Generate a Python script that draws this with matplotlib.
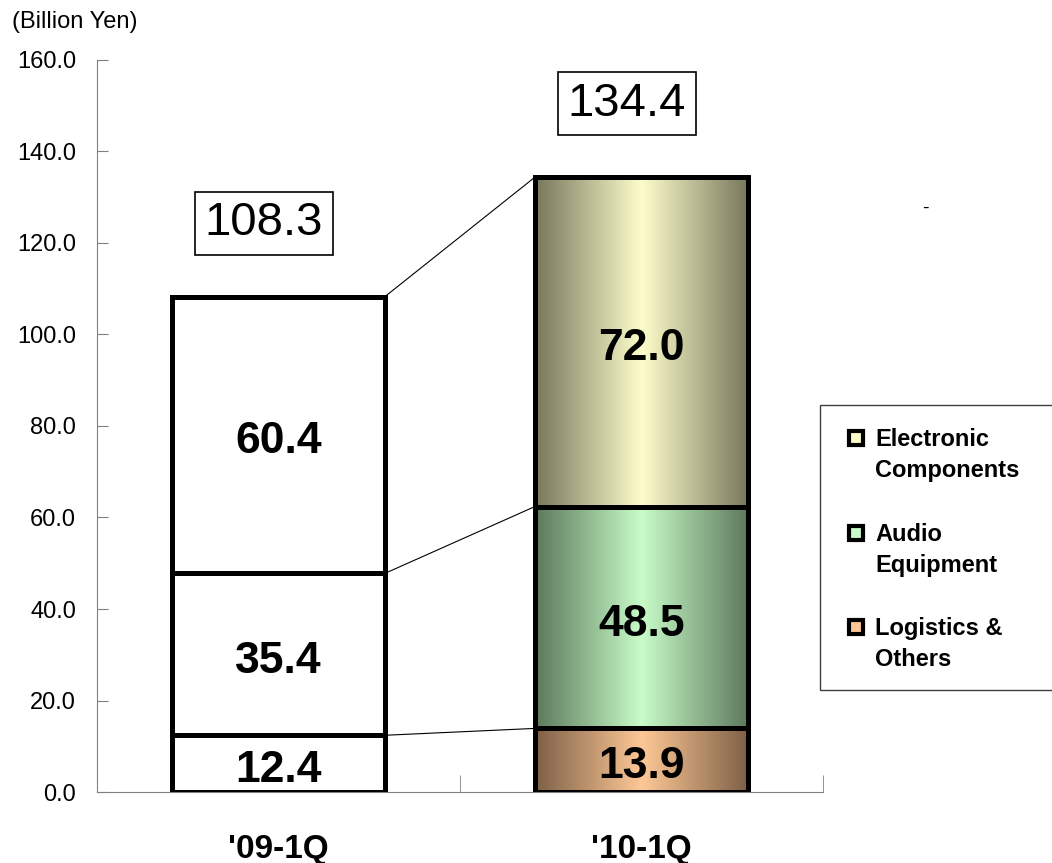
import matplotlib
matplotlib.use("Agg")
import matplotlib.pyplot as plt
import numpy as np
from matplotlib.patches import Rectangle
from matplotlib.colors import LinearSegmentedColormap

plt.rcParams['font.family'] = ['Liberation Sans', 'DejaVu Sans']

categories = ["'09-1Q", "'10-1Q"]
logistics = [12.4, 13.9]
audio = [35.4, 48.5]
electronic = [60.4, 72.0]
totals = [108.3, 134.4]
legend_labels = ["Electronic\nComponents", "Audio\nEquipment", "Logistics &\nOthers"]
yticks = [0, 20, 40, 60, 80, 100, 120, 140, 160]

# (edge colour, centre colour) per segment; first category drawn plain white
grad_colors = {
    'electronic': ('#77775c', '#fdfdcb'),
    'audio': ('#5c785c', '#c8fcc8'),
    'logistics': ('#7d6046', '#fec896'),
}

fig = plt.figure(figsize=(10.52, 8.63), dpi=100)
ax = fig.add_axes([97/1052, 71/863, 726/1052, 732/863])
ax.set_xlim(-0.5, 1.5)
ax.set_ylim(0, 160)

width = 0.587
series = [('logistics', logistics), ('audio', audio), ('electronic', electronic)]

bounds = []  # cumulative boundaries per category
for i in range(len(categories)):
    bottom = 0.0
    cb = []
    for key, vals in series:
        v = vals[i]
        x0, x1 = i - width/2, i + width/2
        if i == 1:
            edge, centre = grad_colors[key]
            cmap = LinearSegmentedColormap.from_list(key, [edge, centre, edge])
            grad = np.linspace(0, 1, 256).reshape(1, -1)
            ax.imshow(grad, cmap=cmap, extent=(x0, x1, bottom, bottom + v),
                      aspect='auto', zorder=1, interpolation='bicubic')
        else:
            ax.add_patch(Rectangle((x0, bottom), width, v, facecolor='white',
                                   edgecolor='none', zorder=1))
        ax.add_patch(Rectangle((x0, bottom), width, v, facecolor='none',
                               edgecolor='black', linewidth=3.6, zorder=3,
                               joinstyle='miter'))
        ax.text(i, bottom + v/2 - 0.5, f"{v:.1f}", ha='center', va='center_baseline',
                fontsize=32, fontweight='bold', zorder=4)
        bottom += v
        cb.append(bottom)
    cb[-1] = totals[i]
    bounds.append(cb)
    ax.text(i - 0.04, totals[i] + 16.0, f"{totals[i]:.1f}", ha='center', va='center',
            fontsize=34, zorder=4,
            bbox=dict(boxstyle='square,pad=0.2', facecolor='white',
                      edgecolor='black', linewidth=1.2))

ax.set_xlim(-0.5, 1.5)
ax.set_ylim(0, 160)

# connector lines
for b0, b1 in zip(bounds[0], bounds[1]):
    ax.plot([0 + width/2, 1 - width/2], [b0, b1], color='black', linewidth=0.8, zorder=2)

# axes styling
for s in ['top', 'right']:
    ax.spines[s].set_visible(False)
ax.spines['left'].set_color('#808080')
ax.spines['bottom'].set_color('#808080')
ax.set_yticks(yticks)
ax.set_yticklabels([f"{t:.1f}" for t in yticks], fontsize=17)
ax.tick_params(axis='y', direction='in', length=8, color='#808080', pad=15)
ax.set_xticks([0, 1])
ax.set_xticklabels(categories, fontsize=24, fontweight='bold')
ax.tick_params(axis='x', length=0, pad=30)
ax.set_xticks([-0.5, 0.5, 1.5], minor=True)
ax.tick_params(axis='x', which='minor', direction='in', length=12, color='#808080')

fig.text(12/1052, 1 - 22/863, "(Billion Yen)", fontsize=17, ha='left', va='center')
fig.text(925/1052, 1 - 208/863, "-", fontsize=14, ha='center', va='center')

# legend box (runs off the right edge)
fig.patches.append(Rectangle((820/1052, 1 - 690/863), 0.3, 285/863,
                             transform=fig.transFigure, facecolor='white',
                             edgecolor='#404040', linewidth=1.0, clip_on=False))
leg_keys = ['electronic', 'audio', 'logistics']
leg_y = [438, 533, 627]
for key, lab, y in zip(leg_keys, legend_labels, leg_y):
    fig.patches.append(Rectangle((849/1052, 1 - (y + 7)/863), 14/1052, 14/863,
                                 transform=fig.transFigure,
                                 facecolor=grad_colors[key][1], edgecolor='black',
                                 linewidth=3))
    fig.text(875/1052, 1 - (y - 10)/863, lab, fontsize=17, fontweight='bold',
             ha='left', va='top', linespacing=1.45)

fig.savefig("out.png", dpi=100)
